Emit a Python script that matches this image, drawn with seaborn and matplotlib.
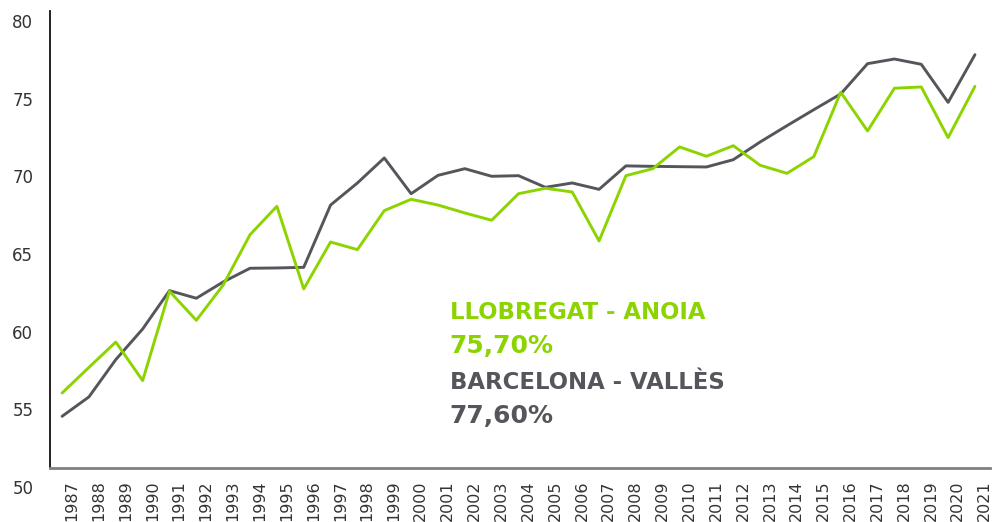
import numpy as np
import pandas as pd
import matplotlib
matplotlib.use("Agg")
import matplotlib.pyplot as plt
import seaborn as sns

years = list(range(1987, 2022))
llobregat_anoia = [56.05, 57.7, 59.33, 56.85, 62.6, 60.73, 63.0, 66.24, 68.07, 62.75,
                   65.77, 65.28, 67.79, 68.52, 68.15, 67.64, 67.17, 68.88, 69.23, 68.99,
                   65.84, 70.04, 70.49, 71.89, 71.29, 71.97, 70.71, 70.19, 71.27, 75.41,
                   72.92, 75.67, 75.75, 72.49, 75.79]
barcelona_valles = [54.55, 55.8, 58.2, 60.17, 62.64, 62.15, 63.2, 64.08, 64.1, 64.14,
                    68.15, 69.57, 71.18, 68.88, 70.06, 70.49, 70.0, 70.04, 69.29, 69.57,
                    69.16, 70.67, 70.64, 70.62, 70.6, 71.07, 72.21, 73.26, 74.29, 75.3,
                    77.25, 77.55, 77.21, 74.76, 77.83]
series_names = ["LLOBREGAT - ANOIA", "BARCELONA - VALLÈS"]
series_labels = ["75,70%", "77,60%"]
y_ticks = [50, 55, 60, 65, 70, 75, 80]

GREEN = "#8CD400"
GRAY = "#55565C"
AXIS_Y = 51.22

df = pd.DataFrame({
    "year": years * 2,
    "value": llobregat_anoia + barcelona_valles,
    "serie": [series_names[0]] * len(years) + [series_names[1]] * len(years),
})

sns.set_style("white")
plt.rcParams["font.family"] = ["DejaVu Sans"]

fig = plt.figure(figsize=(10, 5.22), dpi=100)
ax = fig.add_axes([0.05, 1 - 487 / 522, 0.94, (487 - 11) / 522])

sns.lineplot(data=df, x="year", y="value", hue="serie",
             palette={series_names[0]: GREEN, series_names[1]: GRAY},
             hue_order=[series_names[1], series_names[0]],
             linewidth=2.1, legend=False, ax=ax)

ax.set_xlim(1986.55, 2021.56)
ax.set_ylim(50, 80.64)
ax.set_yticks(y_ticks)
ax.set_yticklabels([str(t) for t in y_ticks])
ax.set_xticks(years)
ax.tick_params(axis="both", length=0, colors="#333333")
ax.tick_params(axis="x", labelbottom=False)
ax.tick_params(axis="y", labelsize=12, pad=12)
for yr in years:
    ax.annotate(str(yr), xy=(yr, AXIS_Y), xycoords="data",
                xytext=(7, -9), textcoords="offset points",
                rotation=90, ha="center", va="top",
                fontsize=11.5, color="#333333", annotation_clip=False)
ax.set_xlabel("")
ax.set_ylabel("")

for s in ["top", "right"]:
    ax.spines[s].set_visible(False)
ax.spines["left"].set_color("#111111")
ax.spines["left"].set_linewidth(1.3)
ax.spines["left"].set_bounds(AXIS_Y, 80.64)
ax.spines["bottom"].set_position(("data", AXIS_Y))
ax.spines["bottom"].set_color("#808080")
ax.spines["bottom"].set_linewidth(2)
ax.grid(False)

tx = 0.425
ax.text(tx, 0.366, series_names[0], transform=ax.transAxes, color=GREEN,
        fontsize=16.4, fontweight="bold", va="center", ha="left")
ax.text(tx, 0.296, series_labels[0], transform=ax.transAxes, color=GREEN,
        fontsize=18, fontweight="bold", va="center", ha="left")
ax.text(tx, 0.219, series_names[1], transform=ax.transAxes, color=GRAY,
        fontsize=16.4, fontweight="bold", va="center", ha="left")
ax.text(tx, 0.150, series_labels[1], transform=ax.transAxes, color=GRAY,
        fontsize=18, fontweight="bold", va="center", ha="left")

fig.savefig("out.png", dpi=100, facecolor="white")
